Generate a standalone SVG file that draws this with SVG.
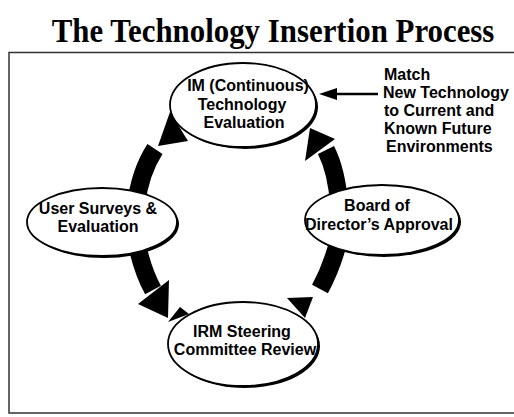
<svg xmlns="http://www.w3.org/2000/svg" width="514" height="417" viewBox="0 0 514 417">
<style>
.title{font-family:"Liberation Serif","Times New Roman",serif;font-weight:bold;font-size:34px;fill:#000}
.lbl{font-family:"Liberation Sans",Arial,sans-serif;font-weight:bold;font-size:16px;fill:#000}
.c{text-anchor:middle}
.frame{fill:none;stroke:#333;stroke-width:1.5}
.shadow{fill:#000}
.node{fill:#fff;stroke:#000;stroke-width:1.8}
.band{fill:none;stroke:#000;stroke-width:18}
.head{fill:#000}
</style>
<rect width="514" height="417" fill="#fff"/>
<text class="title c" transform="translate(273,42) scale(0.908,1)">The Technology Insertion Process</text>
<path class="frame" d="M514 52.5 L9 52.5 L9 413 L514 413"/>
<g id="connectors">
  <path class="band" d="M136 205 Q140 172 155 149"/>
  <polygon class="head" points="158,146 188,141 170,112"/>
  <path class="band" d="M339 205 Q337 172 326 150"/>
  <polygon class="head" points="305,161 335,139 310,128"/>
  <path class="band" d="M136 240 Q142 270 153 290"/>
  <polygon class="head" points="138,304 169,280 168,318"/>
  <polygon class="head" points="168,322 180,307 189,314"/>
  <path class="band" d="M340 235 Q333 265 320 289"/>
  <polygon class="head" points="287,298 313,297 305,318"/>
  <line x1="378" y1="94" x2="333" y2="94" stroke="#000" stroke-width="2.5"/>
  <polygon class="head" points="319,94 337,88 337,100"/>
</g>
<g id="node-im">
  <ellipse class="shadow" cx="245" cy="107" rx="73" ry="42"/>
  <ellipse class="node" cx="243" cy="105" rx="73" ry="42"/>
  <text class="lbl c" x="248" y="91">IM (Continuous)</text>
  <text class="lbl c" x="242" y="109.5">Technology</text>
  <text class="lbl c" x="244" y="128">Evaluation</text>
</g>
<g id="node-user">
  <ellipse class="shadow" cx="104" cy="224" rx="75" ry="34"/>
  <ellipse class="node" cx="102" cy="222" rx="75" ry="34"/>
  <text class="lbl c" x="98" y="214">User Surveys &amp;</text>
  <text class="lbl c" x="98" y="232">Evaluation</text>
</g>
<g id="node-board">
  <ellipse class="shadow" cx="384" cy="222" rx="77" ry="35"/>
  <ellipse class="node" cx="382" cy="220" rx="77" ry="35"/>
  <text class="lbl c" x="377" y="211">Board of</text>
  <text class="lbl c" x="379" y="230">Director’s Approval</text>
</g>
<g id="node-irm">
  <ellipse class="shadow" cx="245" cy="346" rx="75" ry="42"/>
  <ellipse class="node" cx="243" cy="344" rx="75" ry="42"/>
  <text class="lbl c" x="242" y="337">IRM Steering</text>
  <text class="lbl c" x="245" y="355">Committee Review</text>
</g>
<g id="note-match">
  <text class="lbl" x="384" y="80">Match</text>
  <text class="lbl" x="383" y="98">New Technology</text>
  <text class="lbl" x="384" y="116">to Current and</text>
  <text class="lbl" x="384" y="134">Known Future</text>
  <text class="lbl" x="386" y="152">Environments</text>
</g>
</svg>
